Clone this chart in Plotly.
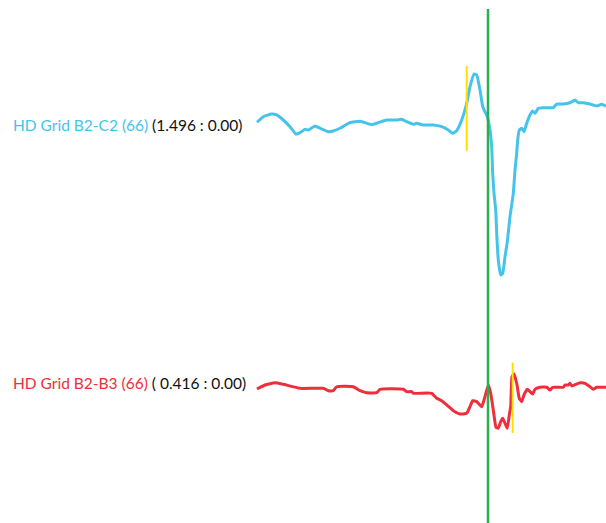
import plotly.graph_objects as go

# Time base in ms, amplitudes in mV
t_b2c2 = [1, 7.3, 15.7, 20.7, 27.3, 34, 40, 44, 49, 52.3, 59, 64, 72.3, 77.3, 84, 94, 104, 109,
          115.7, 122.3, 130.7, 140.7, 145.7, 150.7, 157.3, 160.7, 167.3, 177.3, 185.7, 192.3,
          196.7, 200.7, 205.7, 210.7, 214, 218, 220.7, 224, 226.7, 229, 231.3, 234, 235.7,
          236.7, 238, 239.7, 240.7, 242.3, 244.7, 246.7, 249, 251.3, 254, 257.3, 259, 260.7,
          261.7, 263.3, 265.7, 268, 270.7, 274, 276.7, 279, 282.3, 287.3, 297.3, 300.7, 307.3,
          314, 319, 322.3, 327.3, 334, 340.7, 345.7, 350]
v_b2c2 = [-0.002, 0.040, 0.060, 0.053, 0.015, -0.035, -0.090, -0.080, -0.055, -0.060, -0.030,
          -0.047, -0.073, -0.068, -0.047, -0.005, 0.005, -0.005, -0.020, -0.005, 0.015, 0.015,
          0.020, 0.002, -0.017, -0.010, -0.023, -0.023, -0.035, -0.060, -0.085, -0.065, 0.015,
          0.141, 0.265, 0.361, 0.353, 0.241, 0.115, 0.077, 0.040, -0.060, -0.186, -0.386,
          -0.536, -0.662, -0.837, -1.038, -1.150, -1.138, -1.013, -0.900, -0.712, -0.536,
          -0.361, -0.235, -0.135, -0.060, -0.047, -0.073, -0.010, 0.053, 0.083, 0.065, 0.103,
          0.108, 0.108, 0.135, 0.135, 0.145, 0.165, 0.145, 0.145, 0.135, 0.120, 0.133, 0.120]

t_b2b3 = [1, 9, 19, 27.3, 44, 67.3, 72.3, 77.3, 80.7, 97.3, 104, 110.7, 120.7, 124, 147.3,
          150.7, 155.7, 157.3, 175.7, 180.7, 185.7, 190.7, 197.3, 204, 210.7, 214, 216.7,
          220.7, 225.7, 229, 232.3, 234.7, 237.3, 240, 242.3, 244.7, 246.7, 249, 251.3, 253.3,
          254.7, 256, 258, 260.7, 263.3, 265.7, 268, 271.3, 274, 276.7, 279, 284, 290.7, 294,
          296.7, 307.3, 309, 312.3, 314, 315.7, 324, 329, 334, 337.3, 340.7, 350]
v_b2b3 = [0.000, 0.030, 0.047, 0.035, 0.005, 0.005, -0.013, -0.013, 0.017, 0.017, -0.013,
          -0.028, -0.028, -0.002, -0.002, -0.020, -0.020, -0.032, -0.032, -0.070, -0.088,
          -0.120, -0.163, -0.188, -0.183, -0.133, -0.088, -0.095, -0.133, -0.058, 0.030,
          -0.032, -0.158, -0.288, -0.295, -0.246, -0.220, -0.258, -0.295, -0.195, -0.133,
          0.092, 0.113, 0.043, -0.070, -0.095, -0.045, -0.002, -0.020, -0.038, -0.002, 0.013,
          0.013, -0.008, 0.013, 0.013, 0.030, 0.030, 0.043, 0.023, 0.047, 0.043, 0.017,
          -0.002, 0.013, 0.013]

channel_names = ["HD Grid B2-C2 (66)", "HD Grid B2-B3 (66)"]
channel_stats = ["(1.496 : 0.00)", "( 0.416 : 0.00)"]

# Annotation times (ms)
ref_time = 232
lat_b2c2 = 210.7
lat_b2b3 = 256.7

W, H = 606, 523
BLUE = "#45C3EB"
RED = "#EE2E3A"
GREEN = "#27B14E"
YELLOW = "#FFE000"

px_per_mv = 133.0
x_left_px = 256


def y_domain(baseline_px, lo, hi):
    bottom = baseline_px - lo * px_per_mv
    top = baseline_px - hi * px_per_mv
    return [1 - bottom / H, 1 - top / H]


fig = go.Figure()
fig.add_trace(go.Scatter(x=t_b2c2, y=v_b2c2, mode="lines", xaxis="x", yaxis="y",
                         line=dict(color=BLUE, width=3, shape="spline", smoothing=0.4),
                         hoverinfo="skip"))
fig.add_trace(go.Scatter(x=t_b2b3, y=v_b2b3, mode="lines", xaxis="x", yaxis="y2",
                         line=dict(color=RED, width=3, shape="spline", smoothing=0.4),
                         hoverinfo="skip"))

yr1 = [-1.6, 0.6]
yr2 = [-0.4, 0.2]
fig.update_layout(
    width=W, height=H,
    margin=dict(l=0, r=0, t=0, b=0),
    paper_bgcolor="white", plot_bgcolor="white",
    showlegend=False,
    xaxis=dict(domain=[x_left_px / W, 1], range=[0, 350], visible=False, fixedrange=True),
    yaxis=dict(domain=y_domain(122, *yr1), range=yr1, visible=False),
    yaxis2=dict(domain=y_domain(389, *yr2), range=yr2, visible=False, anchor="x"),
)

# Reference line across the whole view
fig.add_shape(type="line", xref="x", yref="paper", x0=ref_time, x1=ref_time,
              y0=0, y1=1 - 9 / H, line=dict(color=GREEN, width=2.5))
# Local activation markers
fig.add_shape(type="line", xref="x", yref="y", x0=lat_b2c2, x1=lat_b2c2,
              y0=-0.218, y1=0.421, line=dict(color=YELLOW, width=2))
fig.add_shape(type="line", xref="x", yref="y2", x0=lat_b2b3, x1=lat_b2b3,
              y0=-0.331, y1=0.301, line=dict(color=YELLOW, width=2))

label_y = [125, 383]
colors = [BLUE, RED]
for name, stat, col, ypx in zip(channel_names, channel_stats, colors, label_y):
    fig.add_annotation(
        xref="paper", yref="paper", x=11 / W, y=1 - ypx / H,
        xanchor="left", yanchor="middle", showarrow=False,
        text=f"<span style='color:{col}'>{name}</span> <span style='color:#111'>{stat}</span>",
        font=dict(family="Lato", size=15.5),
    )

fig.write_html("out.html")
